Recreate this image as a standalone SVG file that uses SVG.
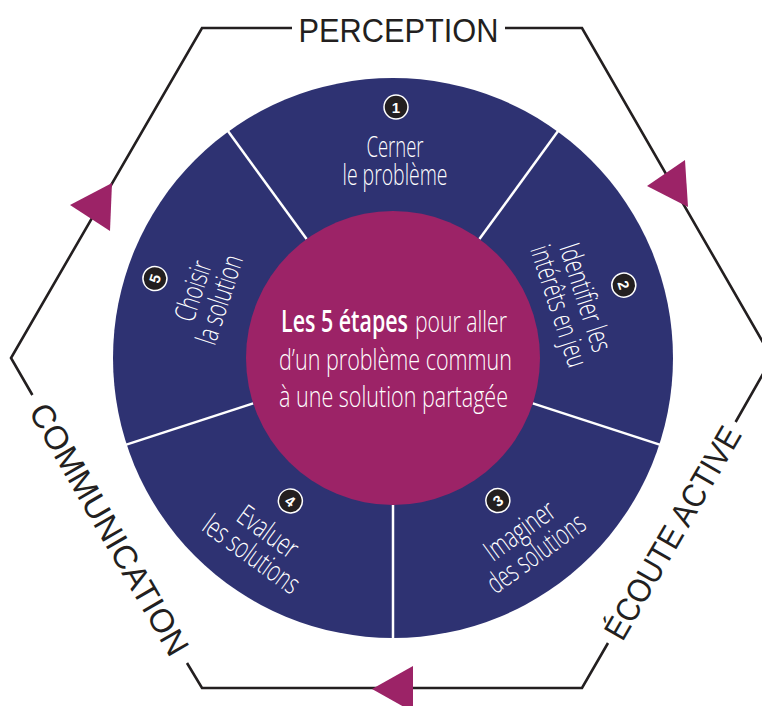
<svg xmlns="http://www.w3.org/2000/svg" width="762" height="706" viewBox="0 0 762 706">
<style>
.hex{fill:none;stroke:#231f20;stroke-width:2.6;stroke-linejoin:miter}
.arrow{fill:#9c2367}
.lbl{font-family:"Liberation Sans",Arial,sans-serif;font-size:33px;fill:#231f20;text-anchor:middle}
.seg{font-family:"Open Sans","Liberation Sans",sans-serif;font-weight:300;font-size:29px;fill:#fff;text-anchor:middle}
.ctr{font-family:"Open Sans","Liberation Sans",sans-serif;font-weight:300;font-size:30px;fill:#fff}
.bold{font-weight:600}
.badge circle{fill:#231f20;stroke:#fff;stroke-width:1.5}
.badge text{font-family:"Liberation Sans",Arial,sans-serif;font-weight:bold;font-size:15px;fill:#fff;text-anchor:middle}
.div{stroke:#fff;stroke-width:2.5}
</style>
<g id="connectors">
  <path class="hex" d="M292 28 H202 L11 358 L32.4 395"/>
  <path class="hex" d="M505 28 H582 L772 358 L735.6 422"/>
  <path class="hex" d="M608 643 L582 688 H202 L187 663"/>
  <polygon class="arrow" points="647,186 685,160 688,207"/>
  <polygon class="arrow" points="70,205 112,183 110,231"/>
  <polygon class="arrow" points="372,689 413,666 413,712"/>
</g>
<g id="label-perception"><text class="lbl" x="398.5" y="42" textLength="200" lengthAdjust="spacingAndGlyphs">PERCEPTION</text></g>
<g id="label-ecoute" transform="translate(672 532.5) rotate(-60)"><text class="lbl" x="0" y="12" textLength="240" lengthAdjust="spacingAndGlyphs">ÉCOUTE ACTIVE</text></g>
<g id="label-communication" transform="translate(109.7 529) rotate(60)"><text class="lbl" x="0" y="12" textLength="285" lengthAdjust="spacingAndGlyphs">COMMUNICATION</text></g>
<g id="wheel">
  <circle cx="393" cy="358" r="280" fill="#2e3272"/>
  <line class="div" x1="532.8" y1="403.4" x2="661.2" y2="445.1"/>
  <line class="div" x1="393" y1="505" x2="393" y2="640"/>
  <line class="div" x1="253.2" y1="403.4" x2="124.8" y2="445.1"/>
  <line class="div" x1="306.6" y1="239.1" x2="227.2" y2="129.9"/>
  <line class="div" x1="479.4" y1="239.1" x2="558.8" y2="129.9"/>
</g>
<g id="center">
  <circle cx="393" cy="358" r="147" fill="#9c2367"/>
  <text class="ctr bold" x="281" y="332" textLength="127" lengthAdjust="spacingAndGlyphs">Les 5 étapes</text>
  <text class="ctr" x="415" y="332" textLength="92" lengthAdjust="spacingAndGlyphs">pour aller</text>
  <text class="ctr" x="279" y="370" textLength="233" lengthAdjust="spacingAndGlyphs">d’un problème commun</text>
  <text class="ctr" x="279" y="407" textLength="229" lengthAdjust="spacingAndGlyphs">à une solution partagée</text>
</g>
<g id="step1">
  <g class="badge"><circle cx="396" cy="107" r="12"/><text x="396" y="112.5">1</text></g>
  <text class="seg" x="395" y="157" textLength="57" lengthAdjust="spacingAndGlyphs">Cerner</text>
  <text class="seg" x="395" y="185" textLength="105" lengthAdjust="spacingAndGlyphs">le problème</text>
</g>
<g id="step2" transform="rotate(72 393 358)">
  <g class="badge"><circle cx="395" cy="116" r="12"/><text x="395" y="121.5">2</text></g>
  <text class="seg" x="395" y="166" textLength="112" lengthAdjust="spacingAndGlyphs">Identifier les</text>
  <text class="seg" x="395" y="194" textLength="126" lengthAdjust="spacingAndGlyphs">intérêts en jeu</text>
</g>
<g id="step3" transform="rotate(-36 393 358)">
  <g class="badge"><circle cx="394" cy="535" r="12"/><text x="394" y="540.5">3</text></g>
  <text class="seg" x="394" y="582" textLength="80" lengthAdjust="spacingAndGlyphs">Imaginer</text>
  <text class="seg" x="394" y="610" textLength="114" lengthAdjust="spacingAndGlyphs">des solutions</text>
</g>
<g id="step4" transform="rotate(36 393 358)">
  <g class="badge"><circle cx="394" cy="534" r="12"/><text x="394" y="539.5">4</text></g>
  <text class="seg" x="394" y="582" textLength="68" lengthAdjust="spacingAndGlyphs">Evaluer</text>
  <text class="seg" x="394" y="610" textLength="112" lengthAdjust="spacingAndGlyphs">les solutions</text>
</g>
<g id="step5" transform="rotate(-72 393 358)">
  <g class="badge"><circle cx="395" cy="107" r="12"/><text x="395" y="112.5">5</text></g>
  <text class="seg" x="395" y="157" textLength="62" lengthAdjust="spacingAndGlyphs">Choisir</text>
  <text class="seg" x="395" y="185" textLength="92" lengthAdjust="spacingAndGlyphs">la solution</text>
</g>
</svg>
